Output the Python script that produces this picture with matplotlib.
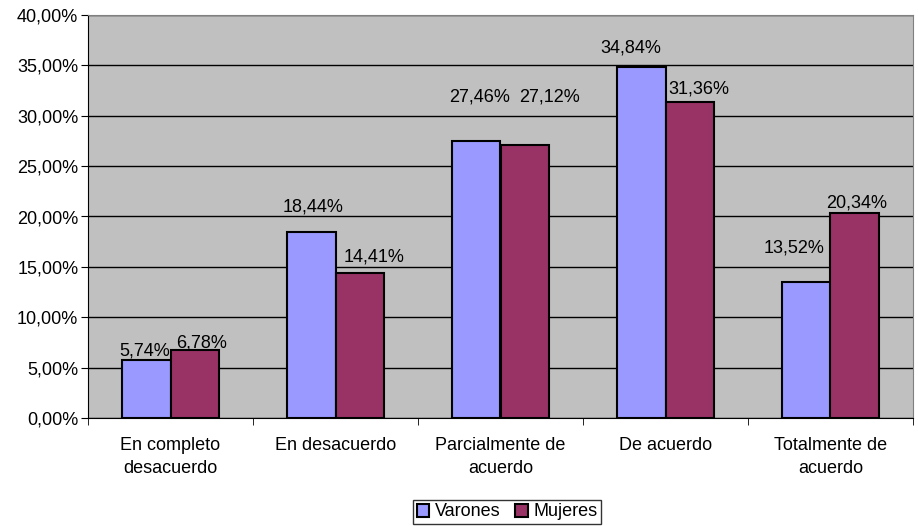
import numpy as np
import matplotlib.pyplot as plt
from matplotlib.ticker import FuncFormatter

plt.rcParams['font.family'] = ['Liberation Sans', 'DejaVu Sans']

categorias = ['En completo\ndesacuerdo', 'En desacuerdo', 'Parcialmente de\nacuerdo',
              'De acuerdo', 'Totalmente de\nacuerdo']
varones = [5.74, 18.44, 27.46, 34.84, 13.52]
mujeres = [6.78, 14.41, 27.12, 31.36, 20.34]

# label offsets (pixels) relative to bar top centre, as placed in the original
off_v = [(-2, 9), (2, 25), (3, 44), (-11, 19), (-12, 34)]
off_m = [(7, 7), (14, 16), (25, 48), (9, 13), (2, 10)]

fig = plt.figure(figsize=(9.18, 5.26), dpi=100)
ax = fig.add_axes([88 / 918, 108 / 526, 825 / 918, 403 / 526])
ax.set_facecolor('#C0C0C0')

x = np.arange(len(categorias))
w = 0.293
bv = ax.bar(x - w / 2, varones, w, color='#9999FF', edgecolor='black', linewidth=1.5,
            label='Varones', zorder=3)
bm = ax.bar(x + w / 2, mujeres, w, color='#993366', edgecolor='black', linewidth=1.5,
            label='Mujeres', zorder=3)


def fmt(v):
    return ('%.2f%%' % v).replace('.', ',')


for bars, vals, offs in [(bv, varones, off_v), (bm, mujeres, off_m)]:
    for b, v, o in zip(bars, vals, offs):
        ax.annotate(fmt(v), (b.get_x() + b.get_width() / 2, v), xytext=o,
                    textcoords='offset pixels', ha='center', va='center',
                    fontsize=13, zorder=4)

ax.set_ylim(0, 40)
ax.set_yticks(np.arange(0, 41, 5))
ax.yaxis.set_major_formatter(FuncFormatter(lambda v, p: fmt(v)))
ax.yaxis.grid(True, color='black', linewidth=1, zorder=1)
ax.set_xlim(-0.5, 4.5)
ax.set_xticks(x)
ax.set_xticklabels(categorias, linespacing=1.4)
ax.set_xticks(np.arange(-0.5, 5, 1), minor=True)
ax.tick_params(axis='x', which='major', length=0, pad=14, labelsize=13)
ax.tick_params(axis='x', which='minor', length=5, direction='out')
ax.tick_params(axis='y', length=5, direction='out', labelsize=13, pad=2)

for s in ['top', 'right']:
    ax.spines[s].set_color('#808080')
for s in ['left', 'bottom']:
    ax.spines[s].set_color('black')

leg = fig.legend(handles=[bv, bm], loc='center', bbox_to_anchor=(507 / 918, 1 - 512 / 526),
                 ncol=2, frameon=True, fancybox=False, fontsize=13, handlelength=0.7,
                 handleheight=0.7, handletextpad=0.3, columnspacing=0.8,
                 borderpad=0.2, edgecolor='black')
leg.get_frame().set_linewidth(1)

fig.savefig('out.png', dpi=100, facecolor='white')
